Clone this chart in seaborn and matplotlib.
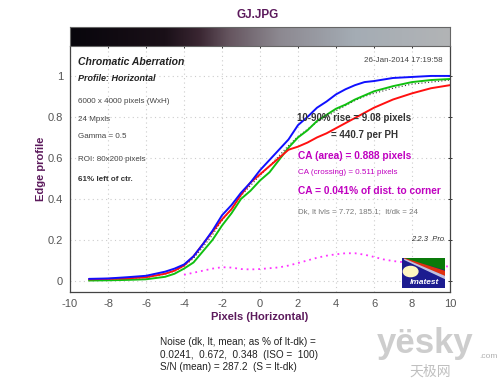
#!/usr/bin/env python
# -*- coding: utf-8 -*-
"""Chromatic aberration edge profile plot (Imatest style)."""
import numpy as np
import pandas as pd
import matplotlib
matplotlib.use('Agg')
import matplotlib.pyplot as plt
from matplotlib.colors import LinearSegmentedColormap
from matplotlib.patches import Polygon, Circle
import seaborn as sns

sns.set_style('white')
plt.rcParams['font.family'] = ['Liberation Sans', 'DejaVu Sans']
plt.rcParams['axes.unicode_minus'] = False

# pixel positions
xpos = [-9, -8, -7, -6, -5, -4.5, -4, -3.5, -3, -2.5, -2, -1.5, -1, -0.5, 0,
        0.5, 1, 1.5, 2, 2.5, 3, 3.5, 4, 4.5, 5, 5.5, 6, 7, 8, 9, 10]
blue = [0.01, 0.012, 0.018, 0.025, 0.045, 0.06, 0.08, 0.12, 0.18, 0.245, 0.32,
        0.37, 0.43, 0.48, 0.54, 0.59, 0.64, 0.69, 0.76, 0.80, 0.845, 0.875,
        0.91, 0.935, 0.955, 0.97, 0.975, 0.99, 0.995, 1.0, 1.0]
red = [0.008, 0.01, 0.013, 0.018, 0.035, 0.05, 0.075, 0.12, 0.18, 0.24, 0.30,
       0.35, 0.42, 0.48, 0.52, 0.56, 0.60, 0.64, 0.655, 0.675, 0.70, 0.72,
       0.745, 0.77, 0.795, 0.82, 0.845, 0.885, 0.915, 0.94, 0.955]
green = [0.002, 0.003, 0.005, 0.008, 0.02, 0.035, 0.06, 0.09, 0.145, 0.20,
         0.27, 0.33, 0.40, 0.44, 0.49, 0.53, 0.59, 0.65, 0.70, 0.735, 0.78,
         0.81, 0.84, 0.86, 0.885, 0.905, 0.925, 0.95, 0.97, 0.98, 0.985]
mean = [0.007, 0.008, 0.012, 0.017, 0.033, 0.048, 0.072, 0.11, 0.165, 0.225,
        0.295, 0.35, 0.415, 0.465, 0.515, 0.56, 0.61, 0.66, 0.705, 0.74,
        0.775, 0.80, 0.83, 0.855, 0.88, 0.90, 0.915, 0.94, 0.96, 0.97, 0.98]

# difference (CA) curve
xdiff = [-4, -3.5, -3, -2.5, -2, -1.5, -1, -0.5, 0, 0.5, 1, 1.5, 2, 2.5, 3,
         3.5, 4, 4.5, 5, 5.5, 6, 6.5, 7, 7.5, 8, 9, 10]
diff = [0.03, 0.04, 0.05, 0.06, 0.067, 0.065, 0.058, 0.056, 0.058, 0.062,
        0.066, 0.075, 0.087, 0.10, 0.113, 0.123, 0.13, 0.135, 0.135, 0.128,
        0.117, 0.105, 0.097, 0.092, 0.085, 0.075, 0.07]

PURPLE = '#5c1a5c'
MAGENTA = '#c000c0'
GREY = '#555555'

fig = plt.figure(figsize=(5.0, 3.84), dpi=100)
ax = fig.add_axes([0.14, 0.2396, 0.76, 0.6406])
bar = fig.add_axes([0.14, 0.880, 0.76, 0.0495])

# gradient bar at top
cmap = LinearSegmentedColormap.from_list(
    'edge', [(0.0, '#08060c'), (0.25, '#1a1018'), (0.34, '#3a2632'),
             (0.42, '#665660'), (0.55, '#8c8890'), (0.75, '#a4acb4'),
             (1.0, '#b2b4b6')])
bar.imshow(np.linspace(0, 1, 256)[None, :], aspect='auto', cmap=cmap,
           extent=[0, 1, 0, 1])
bar.set_xticks([])
bar.set_yticks([])
for sp in bar.spines.values():
    sp.set_color('#666666')
    sp.set_linewidth(0.8)

df = pd.DataFrame({'x': xpos, 'blue': blue, 'red': red,
                   'green': green, 'mean': mean})
dfd = pd.DataFrame({'x': xdiff, 'diff': diff})

sns.lineplot(data=dfd, x='x', y='diff', ax=ax, color='#ff33ff', lw=1.3,
             linestyle=(0, (1, 2.2)))
sns.lineplot(data=df, x='x', y='mean', ax=ax, color='#333333', lw=0.8,
             linestyle=(0, (1, 2)))
sns.lineplot(data=df, x='x', y='green', ax=ax, color='#10c010', lw=1.4)
sns.lineplot(data=df, x='x', y='red', ax=ax, color='#ff1010', lw=1.4)
sns.lineplot(data=df, x='x', y='blue', ax=ax, color='#1010ff', lw=1.4)

ax.set_xlim(-10, 10)
ax.set_ylim(-0.054, 1.146)
ax.set_xticks(np.arange(-10, 11, 2))
ax.set_yticks([0, 0.2, 0.4, 0.6, 0.8, 1.0])
ax.set_yticklabels(['0', '0.2', '0.4', '0.6', '0.8', '1'])
ax.grid(True, color='#cccccc', linestyle=(0, (1, 3)), lw=0.8)
ax.tick_params(axis='both', labelsize=8, colors='#333333', labelcolor=GREY,
               length=3, width=0.7, direction='out')
ax.tick_params(axis='x', top=True, direction='inout')
ax.tick_params(axis='y', right=True, direction='inout')
for sp in ax.spines.values():
    sp.set_color('#444444')
    sp.set_linewidth(0.9)
ax.spines['top'].set_visible(False)

ax.set_xlabel('Pixels (Horizontal)', color=PURPLE, fontsize=8,
              fontweight='bold', labelpad=2)
ax.set_ylabel('Edge profile', color=PURPLE, fontsize=8,
              fontweight='bold', labelpad=1)
fig.text(0.516, 0.962, 'GJ.JPG', color=PURPLE, fontsize=8.5,
         fontweight='bold', ha='center', va='center')

# info text, left side
tr = ax.transAxes


def pt(px, py):
    """Figure pixel position -> axes fraction."""
    return ((px - 70) / 380.0, (292 - py) / 246.0)


ax.text(*pt(78, 62), 'Chromatic Aberration', transform=tr, fontsize=7.5,
        fontweight='bold', style='italic', color='#222222', va='center')
ax.text(*pt(78, 78), 'Profile: Horizontal', transform=tr, fontsize=6.5,
        fontweight='bold', style='italic', color='#222222', va='center')
for yy, txt in [(101, '6000 x 4000 pixels (WxH)'), (119, '24 Mpxls'),
                (137, 'Gamma = 0.5'), (160, 'ROI: 80x200 pixels')]:
    ax.text(*pt(78, yy), txt, transform=tr, fontsize=5.8, color='#444444',
            va='center')
ax.text(*pt(78, 180), '61% left of ctr.', transform=tr, fontsize=5.8,
        fontweight='bold', color='#333333', va='center')

# info text, right side
ax.text(*pt(443, 60), '26-Jan-2014 17:19:58', transform=tr, fontsize=5.8,
        color='#444444', ha='right', va='center')
ax.text(*pt(297, 118), '10-90% rise = 9.08 pixels', transform=tr,
        fontsize=7, fontweight='bold', color='#333333', va='center')
ax.text(*pt(331, 135), '= 440.7 per PH', transform=tr,
        fontsize=7, fontweight='bold', color='#333333', va='center')
ax.text(*pt(298, 156), 'CA (area) = 0.888 pixels', transform=tr,
        fontsize=7.3, fontweight='bold', color=MAGENTA, va='center')
ax.text(*pt(298, 173), 'CA (crossing) = 0.511 pixels', transform=tr,
        fontsize=5.8, color=MAGENTA, va='center')
ax.text(*pt(298, 191), 'CA = 0.041% of dist. to corner', transform=tr,
        fontsize=7.3, fontweight='bold', color=MAGENTA, va='center')
ax.text(*pt(298, 212), 'Dk, lt lvls = 7.72, 185.1;  lt/dk = 24',
        transform=tr, fontsize=5.7, color='#777777', va='center')
ax.text(*pt(444, 240), '2.2.3  Pro', transform=tr, fontsize=5.5,
        style='italic', color='#333333', ha='right', va='center')

# Imatest logo
logo = fig.add_axes([0.804, 0.25, 0.086, 0.078])
logo.set_xlim(0, 1)
logo.set_ylim(0, 1)
logo.axis('off')
logo.add_patch(Polygon([[0, 0], [1, 0], [1, 1], [0, 1]], color='#1c1c90'))
logo.add_patch(Polygon([[0.05, 1], [1, 1], [1, 0.62]], color='#0a7a0a'))
logo.add_patch(Polygon([[0.05, 0.98], [1, 0.55], [1, 0.42]],
                       color='#e03010'))
logo.add_patch(Polygon([[0.05, 0.96], [1, 0.38], [1, 0.32]],
                       color='#c0c0e0'))
logo.add_patch(Circle((0.2, 0.55), 0.17, color='#fff8c0',
                      transform=logo.transData))
logo.text(0.52, 0.17, 'Imatest', color='white', fontsize=6,
          fontweight='bold', style='italic', ha='center', va='center')

# noise summary below
for yy, txt in [(342, 'Noise (dk, lt, mean; as % of lt-dk) ='),
                (355, '0.0241,  0.672,  0.348  (ISO =  100)'),
                (367, 'S/N (mean) = 287.2  (S = lt-dk)')]:
    fig.text(160 / 500.0, 1 - yy / 384.0, txt, fontsize=7.2,
             color='#222222', va='center')

# watermark
fig.text(0.85, 1 - 343 / 384.0, 'yësky', fontsize=25, fontweight='bold',
         color='#c8c8c8', ha='center', va='center', alpha=0.9)
fig.text(0.86, 1 - 372 / 384.0, '天极网', fontsize=10, color='#c0c0c0',
         ha='center', va='center', family=['Noto Sans CJK SC', 'DejaVu Sans'])
fig.text(0.958, 1 - 356 / 384.0, '.com', fontsize=6, color='#b0b0b0',
         ha='left', va='center')

fig.savefig('out.png', dpi=100, facecolor='white')
